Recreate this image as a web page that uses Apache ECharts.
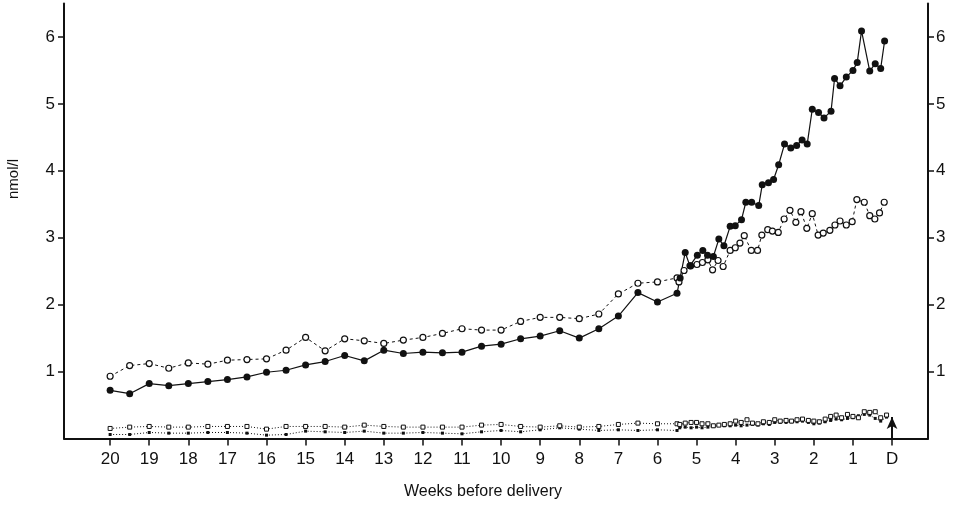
<!DOCTYPE html>
<html>
<head>
<meta charset="utf-8">
<script src="https://cdn.jsdelivr.net/npm/echarts@6/dist/echarts.min.js"></script>
<style>html,body{margin:0;padding:0;background:#fff}#c{width:958px;height:508px}</style>
</head>
<body>
<div id="c"></div>
<script>
// ---- data (weeks before delivery, nmol/l) ----
const tickWeeks = [0,1,2,3,4,5,6,7,8,9,10,11,12,13,14,15,16,17,18,19,20];
const yTicks = [1,2,3,4,5,6];

const halfWeeks = [20,19.5,19,18.5,18,17.5,17,16.5,16,15.5,15,14.5,14,13.5,13,12.5,12,11.5,11,10.5,10,9.5,9,8.5,8,7.5,7,6.5,6,5.5];
const filledHalf = [0.72,0.67,0.82,0.79,0.82,0.85,0.88,0.92,0.99,1.02,1.10,1.15,1.24,1.16,1.32,1.27,1.29,1.28,1.29,1.38,1.41,1.49,1.53,1.61,1.50,1.64,1.83,2.18,2.04,2.17];
const openHalf = [0.93,1.09,1.12,1.05,1.13,1.11,1.17,1.18,1.19,1.32,1.51,1.31,1.49,1.46,1.42,1.47,1.51,1.57,1.64,1.62,1.62,1.75,1.81,1.81,1.79,1.86,2.16,2.32,2.34,2.40];
const lowOpenHalf = [0.15,0.17,0.18,0.17,0.17,0.18,0.18,0.18,0.14,0.18,0.18,0.18,0.17,0.20,0.18,0.17,0.17,0.17,0.17,0.20,0.21,0.18,0.17,0.19,0.17,0.18,0.21,0.23,0.22,0.22];
const lowFilledHalf = [0.06,0.06,0.09,0.08,0.08,0.09,0.09,0.08,0.05,0.06,0.11,0.10,0.09,0.11,0.08,0.08,0.09,0.08,0.07,0.10,0.12,0.10,0.13,0.16,0.14,0.12,0.13,0.12,0.13,0.12];

const filledDenseWeeks = [5.42,5.29,5.17,4.98,4.84,4.72,4.57,4.43,4.30,4.14,4.01,3.85,3.74,3.59,3.41,3.32,3.16,3.03,2.90,2.75,2.59,2.44,2.30,2.17,2.04,1.88,1.74,1.56,1.47,1.33,1.17,1.00,0.89,0.78,0.57,0.43,0.29,0.19];
const filledDense = [2.40,2.78,2.58,2.74,2.81,2.74,2.72,2.98,2.88,3.17,3.18,3.27,3.53,3.53,3.48,3.79,3.82,3.87,4.09,4.40,4.34,4.38,4.46,4.40,4.92,4.87,4.79,4.89,5.38,5.27,5.40,5.50,5.62,6.09,5.49,5.60,5.53,5.94];

const openDenseWeeks = [5.45,5.32,5.15,4.99,4.85,4.71,4.59,4.45,4.32,4.14,4.01,3.89,3.78,3.60,3.44,3.33,3.18,3.06,2.91,2.76,2.61,2.46,2.33,2.18,2.04,1.89,1.76,1.59,1.46,1.33,1.17,1.02,0.90,0.71,0.57,0.44,0.32,0.20];
const openDense = [2.34,2.51,2.58,2.60,2.63,2.67,2.52,2.66,2.57,2.81,2.85,2.92,3.03,2.81,2.81,3.04,3.12,3.10,3.08,3.28,3.41,3.23,3.39,3.14,3.36,3.04,3.07,3.11,3.19,3.25,3.19,3.24,3.57,3.53,3.33,3.28,3.37,3.53];

const lowDenseWeeks = [5.43,5.29,5.14,5.00,4.86,4.71,4.57,4.43,4.29,4.14,4.00,3.86,3.71,3.57,3.43,3.29,3.14,3.00,2.86,2.71,2.57,2.43,2.29,2.14,2.00,1.86,1.71,1.57,1.43,1.29,1.14,1.00,0.86,0.71,0.57,0.43,0.29,0.14];
const lowOpenDense = [0.21,0.23,0.24,0.24,0.22,0.22,0.19,0.20,0.21,0.22,0.26,0.24,0.28,0.23,0.22,0.25,0.24,0.28,0.26,0.27,0.26,0.28,0.29,0.27,0.26,0.25,0.29,0.33,0.35,0.31,0.36,0.33,0.31,0.40,0.39,0.40,0.31,0.35];
const lowFilledDense = [0.16,0.17,0.16,0.17,0.16,0.17,0.18,0.20,0.19,0.19,0.20,0.19,0.20,0.21,0.20,0.22,0.21,0.24,0.24,0.24,0.25,0.25,0.26,0.24,0.22,0.23,0.25,0.27,0.29,0.28,0.30,0.31,0.34,0.36,0.35,0.30,0.26,0.32];

const deliveryWeek = 0;
const arrowTop = 0.32;

// ---- build ----
function pairs(xs, ys){ return xs.map((x,i)=>[x, ys[i]]); }
const sFilled = pairs(halfWeeks, filledHalf).concat(pairs(filledDenseWeeks, filledDense));
const sOpen = pairs(halfWeeks, openHalf).concat(pairs(openDenseWeeks, openDense));
const sLowOpen = pairs(halfWeeks, lowOpenHalf).concat(pairs(lowDenseWeeks, lowOpenDense));
const sLowFilled = pairs(halfWeeks, lowFilledHalf).concat(pairs(lowDenseWeeks, lowFilledDense));

const FONT = '"Liberation Sans", Arial, Helvetica, sans-serif';
const chart = echarts.init(document.getElementById('c'), null, {renderer:'canvas'});

function yAxisDef(pos){
  return {
    type:'value', min:0, max:6.5, position:pos,
    splitLine:{show:false},
    axisLine:{show:true, onZero:false, lineStyle:{color:'#111', width:2}},
    axisTick:{show:true, customValues:yTicks, length:6, lineStyle:{color:'#111', width:1.5}},
    axisLabel:{show:true, customValues:yTicks, fontSize:17, color:'#111', fontFamily:FONT, margin:(pos==='left'?9:8)}
  };
}

chart.setOption({
  animation:false,
  backgroundColor:'#fff',
  grid:{left:64, right:30, top:3.5, bottom:69.5, containLabel:false},
  xAxis:{
    type:'value', min:-0.92, max:21.18, inverse:true,
    splitLine:{show:false},
    axisLine:{show:true, onZero:false, lineStyle:{color:'#111', width:2}},
    axisTick:{show:true, customValues:tickWeeks, length:7, lineStyle:{color:'#111', width:1.5}},
    axisLabel:{show:true, customValues:tickWeeks, fontSize:17, color:'#111', fontFamily:FONT, margin:12,
      formatter:function(v){ return v===0 ? 'D' : String(v); }}
  },
  yAxis:[yAxisDef('left'), yAxisDef('right')],
  graphic:[
    {type:'text', x:6, y:199, rotation:Math.PI/2, style:{text:'nmol/l', fill:'#111', font:'15px '+FONT}},
    {type:'text', x:483, y:484, style:{text:'Weeks before delivery', fill:'#111', font:'16px '+FONT, align:'center'}}
  ],
  series:[
    {type:'line', data:sLowFilled, symbol:'rect', symbolSize:3,
      lineStyle:{color:'#111', width:1, type:[1,2]}, itemStyle:{color:'#111'},
      markLine:{silent:true, symbol:['none','arrow'], symbolSize:[8,12],
        lineStyle:{color:'#111', width:2, type:'solid'}, label:{show:false},
        data:[[{coord:[deliveryWeek,0]},{coord:[deliveryWeek,arrowTop]}]]}},
    {type:'line', data:sLowOpen, symbol:'rect', symbolSize:4,
      lineStyle:{color:'#111', width:1, type:[1,2]}, itemStyle:{color:'#fff', borderColor:'#111', borderWidth:1}},
    {type:'line', data:sOpen, symbol:'circle', symbolSize:6,
      lineStyle:{color:'#111', width:1, type:[3,3]}, itemStyle:{color:'#fff', borderColor:'#111', borderWidth:1.2}},
    {type:'line', data:sFilled, symbol:'circle', symbolSize:7,
      lineStyle:{color:'#111', width:1.2}, itemStyle:{color:'#111'}}
  ]
});
</script>
</body>
</html>
